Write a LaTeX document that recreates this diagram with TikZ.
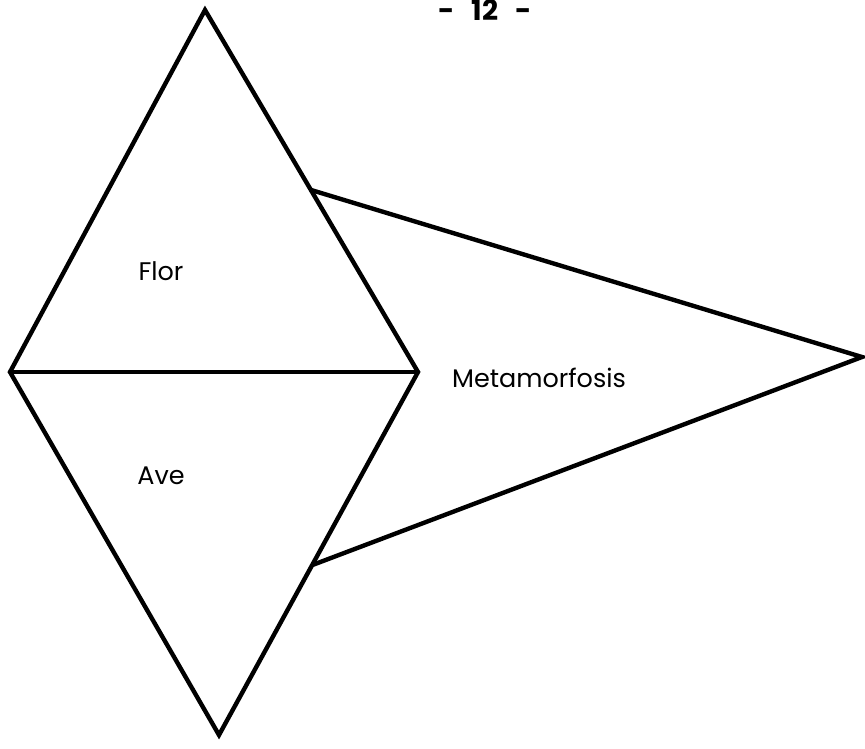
\documentclass[tikz,border=0pt]{standalone}
\usepackage{fontspec}
\setmainfont{Poppins}
\usetikzlibrary{calc}

\begin{document}
\begin{tikzpicture}[x=0.02cm,y=-0.02cm,line join=miter,
  edge/.style={line width=2.5pt,black},
  lab/.style={font=\fontsize{14.5}{16}\selectfont,inner sep=0pt}]
\useasboundingbox (0,0) rectangle (865,748);

\coordinate (top) at (205,10);
\coordinate (left) at (10,372);
\coordinate (right) at (418,372);
\coordinate (bottom) at (219,735);
\coordinate (tip) at (862,357);
\coordinate (up) at ($(top)!0.497!(right)$);
\coordinate (low) at ($(right)!0.532!(bottom)$);

% rombo
\draw[edge] (top) -- (right) -- (bottom) -- (left) -- cycle;
\draw[edge] (left) -- (right);
% triangulo
\draw[edge] (up) -- (tip) -- (low);

\node[font=\fontsize{16}{18}\selectfont\bfseries,inner sep=0pt] (page) at (485,10) {-\hspace{0.6em}12\hspace{0.6em}-};
\node[lab] (flor) at (161,271) {Flor};
\node[lab] (ave) at (161,476) {Ave};
\node[lab] (meta) at (539,378) {Metamorfosis};
\end{tikzpicture}
\end{document}
